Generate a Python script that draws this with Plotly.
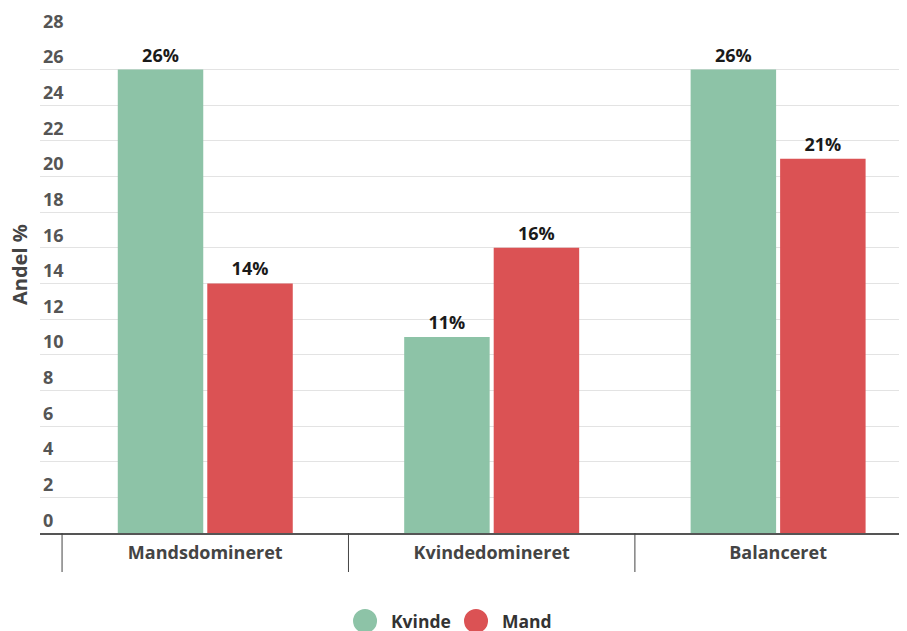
import plotly.graph_objects as go

categories = ["Mandsdomineret", "Kvindedomineret", "Balanceret"]
kvinde = [26, 11, 26]
mand = [14, 16, 21]
y_ticks = list(range(0, 29, 2))
series_names = ["Kvinde", "Mand"]

green = "#8dc3a7"
red = "#db5254"
font_family = "Open Sans, Noto Sans, sans-serif"

fig = go.Figure()
for name, vals, col in [(series_names[0], kvinde, green), (series_names[1], mand, red)]:
    fig.add_trace(go.Bar(
        x=list(range(len(categories))), y=vals, name=name,
        marker=dict(color=col, line=dict(width=0)),
        text=[f"{v}%" for v in vals], textposition="outside",
        textfont=dict(family=font_family, size=18, color="#1a1a1a", weight="bold"),
        cliponaxis=False, showlegend=False,
    ))

# category boundary tick lines
for b in [-0.5, 0.5, 1.5, 2.5]:
    fig.add_shape(type="line", xref="x", yref="paper", x0=b, x1=b, y0=0, y1=-0.078,
                  line=dict(color="#444444", width=1))

# legend (circle symbols + labels)
legend_items = [(series_names[0], green, 0.3749, 0.4025), (series_names[1], red, 0.5029, 0.5305)]
for name, col, cx, tx in legend_items:
    fig.add_shape(type="circle", xref="paper", yref="paper", xsizemode="pixel", ysizemode="pixel",
                  xanchor=cx, yanchor=-0.176, x0=-12, x1=12, y0=-12, y1=12,
                  fillcolor=col, line=dict(width=0))
    fig.add_annotation(text=name, xref="paper", yref="paper", x=tx, y=-0.176,
                       xanchor="left", yanchor="middle", showarrow=False,
                       font=dict(family=font_family, size=17.5, color="#333333", weight="bold"))

# y axis title
fig.add_annotation(text="Andel %", xref="paper", yref="paper", x=0, xshift=-21, y=0.536,
                   xanchor="center", yanchor="middle", textangle=-90, showarrow=False,
                   font=dict(family=font_family, size=20, color="#444444", weight="bold"))

fig.update_layout(
    width=899, height=623,
    margin=dict(l=32, r=0, t=25, b=98),
    plot_bgcolor="white", paper_bgcolor="white",
    barmode="group", bargap=0.375, bargroupgap=0.045,
    font=dict(family=font_family, color="#444444"),
    showlegend=False,
    xaxis=dict(
        range=[-0.577, 2.45], tickmode="array", tickvals=list(range(len(categories))),
        ticktext=categories, ticks="", showgrid=False, zeroline=False,
        showline=True, linecolor="#555555", linewidth=2,
        tickfont=dict(family=font_family, size=18, color="#444444", weight="bold"),
        ticklabelstandoff=2, automargin=False,
    ),
    yaxis=dict(
        range=[0, 28.05], tickmode="array", tickvals=y_ticks,
        ticklabelposition="inside top", ticklabeloverflow="allow",
        showgrid=True, gridcolor="#e3e3e3", gridwidth=1,
        zeroline=False, ticks="", automargin=False,
        tickfont=dict(family=font_family, size=18, color="#555555", weight="bold"),
    ),
)

fig.write_html("out.html")
